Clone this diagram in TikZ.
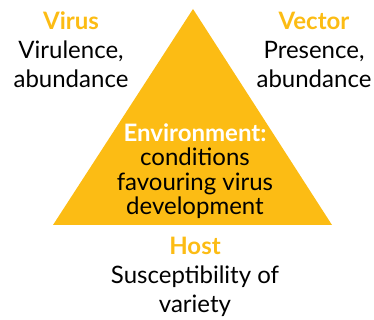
\documentclass[tikz,border=0pt]{standalone}
\usepackage{fontspec}
\setmainfont{Lato}
\definecolor{gold}{RGB}{252,188,20}
\begin{document}
\begin{tikzpicture}[x=1pt,y=1pt,
  lbl/.style={align=center,inner sep=0pt,font=\fontsize{24}{29}\selectfont,anchor=base},
  clbl/.style={align=center,inner sep=0pt,font=\fontsize{24}{24.5}\selectfont,anchor=base}]
\useasboundingbox (0,0) rectangle (374,320);
\fill[gold] (193,311) coordinate (apex) -- (332,95) coordinate (br) -- (53,95) coordinate (bl) -- cycle;
\node[lbl] (virus) at (71,232) {{\color{gold}\bfseries Virus}\\Virulence,\\abundance};
\node[lbl] (vector) at (314,232) {{\color{gold}\bfseries Vector}\\Presence,\\abundance};
\node[clbl] (env) at (195,105) {{\color{white}\bfseries Environment:}\\conditions\\favouring virus\\development};
\node[lbl] (host) at (195,7) {{\color{gold}\bfseries Host}\\Susceptibility of\\variety};
\end{tikzpicture}
\end{document}
